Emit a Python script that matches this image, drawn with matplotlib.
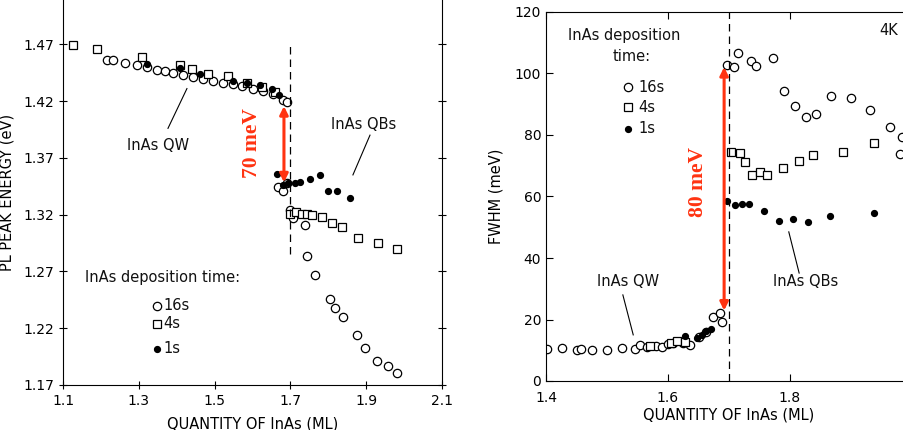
import matplotlib
matplotlib.use('Agg')
import matplotlib.pyplot as plt

plt.rcParams['font.family'] = ['DejaVu Sans']

# ---- left panel: PL peak energy vs InAs quantity ----
pl_16s_x = [1.216, 1.232, 1.264, 1.295, 1.321, 1.348, 1.369, 1.390, 1.417, 1.443,
            1.469, 1.496, 1.522, 1.549, 1.572, 1.601, 1.628, 1.655, 1.681, 1.690,
            1.667, 1.681, 1.690, 1.699, 1.707, 1.739, 1.744, 1.765, 1.805, 1.818,
            1.839, 1.875, 1.896, 1.928, 1.958, 1.981]
pl_16s_y = [1.4565, 1.456, 1.4536, 1.4515, 1.450, 1.4478, 1.4465, 1.4447, 1.4427, 1.4412,
            1.4398, 1.4377, 1.436, 1.4348, 1.433, 1.431, 1.4289, 1.426, 1.4207, 1.419,
            1.344, 1.341, 1.348, 1.324, 1.317, 1.311, 1.284, 1.267, 1.246, 1.238,
            1.230, 1.214, 1.203, 1.191, 1.187, 1.181]

pl_4s_x = [1.126, 1.190, 1.308, 1.409, 1.440, 1.483, 1.535, 1.585, 1.625, 1.660,
           1.699, 1.715, 1.730, 1.745, 1.757, 1.783, 1.810, 1.836, 1.878, 1.931, 1.981]
pl_4s_y = [1.469, 1.466, 1.459, 1.4515, 1.4486, 1.444, 1.442, 1.436, 1.432, 1.428,
           1.321, 1.322, 1.321, 1.321, 1.320, 1.318, 1.313, 1.309, 1.299, 1.295, 1.290]

pl_1s_x = [1.321, 1.409, 1.462, 1.549, 1.585, 1.620, 1.651, 1.670,
           1.665, 1.681, 1.694, 1.712, 1.725, 1.752, 1.778, 1.799, 1.823, 1.857]
pl_1s_y = [1.453, 1.449, 1.444, 1.438, 1.436, 1.434, 1.431, 1.425,
           1.356, 1.346, 1.348, 1.348, 1.349, 1.351, 1.355, 1.341, 1.341, 1.335]

pl_xticks = [1.1, 1.3, 1.5, 1.7, 1.9, 2.1]
pl_yticks = [1.17, 1.22, 1.27, 1.32, 1.37, 1.42, 1.47]

# ---- right panel: FWHM vs InAs quantity ----
fw_16s_x = [1.401, 1.426, 1.450, 1.458, 1.475, 1.500, 1.524, 1.546, 1.554, 1.565,
            1.581, 1.590, 1.600, 1.609, 1.625, 1.636, 1.650, 1.663, 1.674, 1.685, 1.688,
            1.696, 1.708, 1.715, 1.736, 1.744, 1.772, 1.790, 1.808, 1.827, 1.843,
            1.868, 1.900, 1.931, 1.964, 1.983, 1.981]
fw_16s_y = [10.4, 10.8, 10.1, 10.4, 10.1, 10.1, 10.6, 10.3, 11.7, 11.2,
            11.5, 11.2, 12.0, 12.5, 12.5, 11.7, 14.4, 16.0, 20.9, 22.0, 19.3,
            102.8, 102.2, 106.6, 104.2, 102.5, 104.9, 94.4, 89.5, 86.0, 86.8,
            92.7, 91.9, 88.1, 82.7, 79.4, 73.8]

fw_4s_x = [1.570, 1.605, 1.615, 1.628, 1.704, 1.718, 1.726, 1.737, 1.751, 1.762,
           1.789, 1.814, 1.838, 1.887, 1.937]
fw_4s_y = [11.5, 12.5, 13.0, 12.8, 74.6, 74.0, 71.3, 67.0, 68.1, 67.0,
           69.2, 71.6, 73.5, 74.6, 77.3]

fw_1s_x = [1.628, 1.647, 1.655, 1.663, 1.670, 1.697, 1.710, 1.722, 1.733, 1.758,
           1.782, 1.805, 1.830, 1.866, 1.938]
fw_1s_y = [14.6, 14.0, 15.0, 16.4, 17.0, 58.5, 57.2, 57.6, 57.6, 55.3,
           52.0, 52.6, 51.6, 53.7, 54.7]

fw_xticks = [1.4, 1.6, 1.8, 2.0]
fw_xlabels = ['1.4', '1.6', '1.8', '']   # 2.0 falls off the cropped scan
fw_yticks = [0, 20, 40, 60, 80, 100, 120]

red = '#ff3311'
txt = dict(fontsize=10.5, color='#111111')
open_c = dict(marker='o', ms=6, mfc='white', mec='black', mew=0.9, ls='none')
open_s = dict(marker='s', ms=5.5, mfc='white', mec='black', mew=0.9, ls='none')
filled = dict(marker='o', ms=4.2, mfc='black', mec='black', ls='none')

fig = plt.figure(figsize=(9.04, 4.30), dpi=100)

# left axes
ax1 = fig.add_axes([63 / 904, 45 / 430, 379 / 904, 385 / 430])
ax1.plot(pl_16s_x, pl_16s_y, **open_c)
ax1.plot(pl_4s_x, pl_4s_y, **open_s)
ax1.plot(pl_1s_x, pl_1s_y, **filled)
ax1.set_xlim(1.1, 2.1)
ax1.set_ylim(1.17, 1.509)
ax1.set_xticks(pl_xticks)
ax1.set_xticklabels(['1.1', '1.3', '1.5', '1.7', '1.9', '2.1'])
ax1.set_yticks(pl_yticks)
ax1.set_yticklabels(['1.17', '1.22', '1.27', '1.32', '1.37', '1.42', '1.47'])
ax1.spines['top'].set_visible(False)
ax1.tick_params(direction='inout', length=6, labelsize=10, right=True, top=False)
ax1.set_xlabel('QUANTITY OF InAs (ML)', fontsize=10.5, labelpad=6)
ax1.set_ylabel('PL PEAK ENERGY (eV)', fontsize=10.5, labelpad=6)

ax1.plot([1.70, 1.70], [1.285, 1.472], ls=(0, (6, 4)), color='black', lw=0.9)
ax1.annotate('', xy=(1.683, 1.418), xytext=(1.683, 1.346),
             arrowprops=dict(arrowstyle='<|-|>', color=red, lw=2.2, mutation_scale=12))
ax1.text(1.598, 1.383, '70 meV', rotation=90, ha='center', va='center', color=red,
         fontsize=15.5, fontweight='bold', family='Liberation Serif')
ax1.text(1.35, 1.381, 'InAs QW', ha='center', va='center', **txt)
ax1.plot([1.377, 1.427], [1.396, 1.431], color='black', lw=0.8)
ax1.text(1.892, 1.399, 'InAs QBs', ha='center', va='center', **txt)
ax1.plot([1.865, 1.910], [1.355, 1.390], color='black', lw=0.8)
ax1.text(1.158, 1.265, 'InAs deposition time:', ha='left', va='center', **txt)
ax1.plot([1.348], [1.240], **open_c)
ax1.plot([1.348], [1.224], **open_s)
ax1.plot([1.349], [1.202], **filled)
ax1.text(1.364, 1.240, '16s', ha='left', va='center', **txt)
ax1.text(1.364, 1.224, '4s', ha='left', va='center', **txt)
ax1.text(1.364, 1.202, '1s', ha='left', va='center', **txt)

# right axes (runs past the right edge, as in the cropped scan)
ax2 = fig.add_axes([546 / 904, 49 / 430, 366 / 904, 369 / 430])
ax2.plot(fw_16s_x, fw_16s_y, **open_c)
ax2.plot(fw_4s_x, fw_4s_y, **open_s)
ax2.plot(fw_1s_x, fw_1s_y, **filled)
ax2.set_xlim(1.4, 2.0)
ax2.set_ylim(0, 120)
ax2.set_xticks(fw_xticks)
ax2.set_xticklabels(fw_xlabels)
ax2.set_yticks(fw_yticks)
ax2.tick_params(direction='in', length=5, labelsize=10, top=True)
ax2.tick_params(axis='x', pad=7)
ax2.set_xlabel('QUANTITY OF InAs (ML)', fontsize=10.5, labelpad=2)
ax2.set_ylabel('FWHM (meV)', fontsize=10.5, labelpad=8)

ax2.axvline(1.70, ls=(0, (6, 4)), color='black', lw=0.9)
ax2.annotate('', xy=(1.692, 103), xytext=(1.692, 22),
             arrowprops=dict(arrowstyle='<|-|>', color=red, lw=2.2, mutation_scale=12))
ax2.text(1.649, 64.7, '80 meV', rotation=90, ha='center', va='center', color=red,
         fontsize=15.5, fontweight='bold', family='Liberation Serif')
ax2.text(1.961, 114, '4K', ha='center', va='center', **txt)
ax2.text(1.436, 112.5, 'InAs deposition', ha='left', va='center', **txt)
ax2.text(1.541, 105.4, 'time:', ha='center', va='center', **txt)
ax2.plot([1.535], [95.5], **open_c)
ax2.plot([1.535], [89], **open_s)
ax2.plot([1.535], [82], **filled)
ax2.text(1.552, 95.5, '16s', ha='left', va='center', **txt)
ax2.text(1.552, 89, '4s', ha='left', va='center', **txt)
ax2.text(1.552, 82, '1s', ha='left', va='center', **txt)
ax2.text(1.534, 32.2, 'InAs QW', ha='center', va='center', **txt)
ax2.plot([1.526, 1.543], [28, 15], color='black', lw=0.8)
ax2.text(1.825, 32.2, 'InAs QBs', ha='center', va='center', **txt)
ax2.plot([1.815, 1.798], [35.1, 48.5], color='black', lw=0.8)

fig.savefig('out.png', dpi=100)
